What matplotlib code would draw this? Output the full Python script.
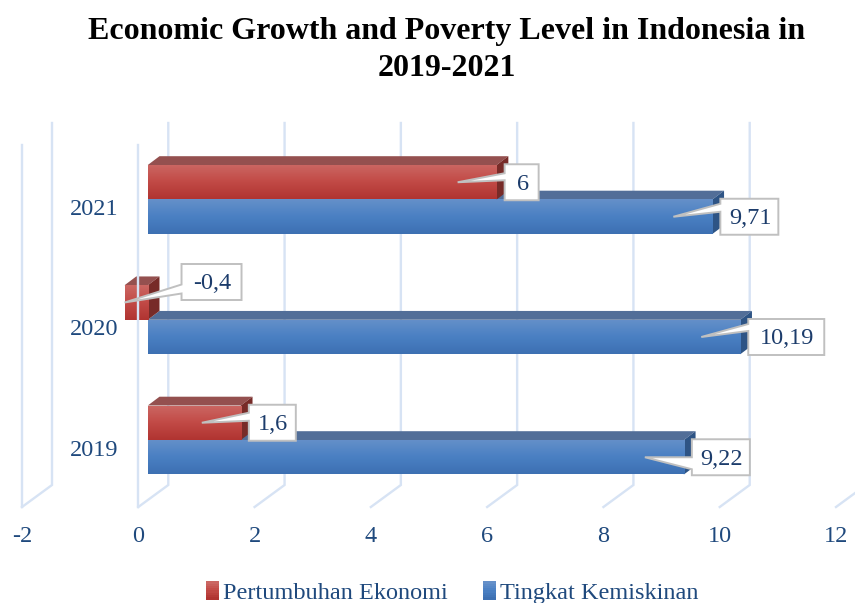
import numpy as np
import matplotlib
matplotlib.use('Agg')
import matplotlib.pyplot as plt
from matplotlib.colors import LinearSegmentedColormap
from matplotlib.legend_handler import HandlerBase
from matplotlib.patches import Polygon, Rectangle

plt.rcParams['font.family'] = ['Liberation Serif', 'DejaVu Serif']

years = ['2019', '2020', '2021']
pertumbuhan = [1.6, -0.4, 6]
kemiskinan = [9.22, 10.19, 9.71]
x_ticks = [-2, 0, 2, 4, 6, 8, 10, 12]
title = 'Economic Growth and Poverty Level in Indonesia in\n2019-2021'
series_names = ['Pertumbuhan Ekonomi', 'Tingkat Kemiskinan']

W, H = 855, 603
TEXT_BLUE = '#1f497d'
LABEL_BLUE = '#1c3c6b'
GRID = '#d7e3f4'

fig = plt.figure(figsize=(W / 100, H / 100), dpi=100)
ax = fig.add_axes([22 / W, (H - 507) / H, 814 / W, 362 / H])
ax.set_xlim(-2, 12)
ax.set_ylim(-67 / 120.25, 295 / 120.25)
for s in ax.spines.values():
    s.set_visible(False)

# size of one pixel in data units
ux = 14 / 814
uy = (295 + 67) / 120.25 / 362

bar_h = 34.5 * uy
shift = 9.5 * ux          # bars start a bit behind the front of the floor
depth_x = 11.7 * ux
depth_y = 8.8 * uy

# walls and floor of the 3d box
wall_x = 30 * ux
wall_y = 22 * uy
y0, y1 = ax.get_ylim()
line_kw = dict(color=GRID, lw=1.7, clip_on=False, solid_joinstyle='miter')
for t in x_ticks:
    ax.plot([t, t + wall_x, t + wall_x], [y0, y0 + wall_y, y1 + wall_y], zorder=1, **line_kw)
for t in [-2, 0]:
    ax.plot([t, t], [y0, y1], zorder=6, **line_kw)

red_map = LinearSegmentedColormap.from_list('r', ['#cb6763', '#c24a46', '#b03431'])
blue_map = LinearSegmentedColormap.from_list('b', ['#6590c9', '#4a80c3', '#3d70b2'])
gradient = np.linspace(0, 1, 64).reshape(-1, 1)


def bar3d(ypos, value, cmap, top_color, side_color, z):
    bottom = ypos
    bar = ax.barh(bottom, value, height=bar_h, left=shift, align='edge',
                  color='none', clip_on=False, zorder=z)[0]
    left, right = sorted([shift, shift + value])
    top = bottom + bar_h
    ax.add_patch(Polygon([(left, top), (right, top), (right + depth_x, top + depth_y),
                          (left + depth_x, top + depth_y)],
                         fc=top_color, ec='none', clip_on=False, zorder=z))
    ax.add_patch(Polygon([(right, bottom), (right + depth_x, bottom + depth_y),
                          (right + depth_x, top + depth_y), (right, top)],
                         fc=side_color, ec='none', clip_on=False, zorder=z))
    im = ax.imshow(gradient, cmap=cmap, aspect='auto', extent=(left, right, bottom, top),
                   zorder=z + 0.1, interpolation='bilinear')
    im.set_clip_path(Rectangle((left, bottom), right - left, bar_h, transform=ax.transData))
    return bar


def callout(ypos, value, width_px, base, lifted=False):
    # white label box with a wedge pointing back into the bar
    end = shift + value
    if lifted:
        tip = (end, ypos)
        box_l = end + 57 * ux
        cy = ypos + 20.5 * uy
    else:
        tip = (end - 39 * ux, ypos)
        box_l = end + 8 * ux
        cy = ypos
    box_r = box_l + width_px * ux
    hh = 18 * uy
    pts = [(box_l, cy + hh), (box_r, cy + hh), (box_r, cy - hh), (box_l, cy - hh),
           (box_l, ypos + base[1] * uy), tip, (box_l, ypos + base[0] * uy)]
    ax.add_patch(Polygon(pts, closed=True, fc='white', ec='#c0c0c0', lw=1.4,
                         joinstyle='miter', clip_on=False, zorder=8))
    ax.text((box_l + box_r) / 2 + 1 * ux, cy - 2 * uy, str(value).replace('.', ','),
            color=LABEL_BLUE, fontsize=17.5, ha='center', va='center', zorder=9)


y_pos = np.arange(len(years))
for y, r, b in zip(y_pos, pertumbuhan, kemiskinan):
    bar3d(y - bar_h, b, blue_map, '#526e98', '#2e5485', 3)
    bar3d(y, r, red_map, '#94504f', '#772b28', 4)

ax.set_xlim(-2, 12)
ax.set_ylim(y0, y1)

red_widths = [47, 60, 34]
blue_widths = [58, 76, 58]
red_bases = [(10, 2), (18, 9), (9, 2)]
blue_bases = [(0, -12), (13, 6), (13, 5)]
for i, y in enumerate(y_pos):
    callout(y + bar_h / 2, pertumbuhan[i], red_widths[i], red_bases[i], pertumbuhan[i] < 0)
    callout(y - bar_h / 2, kemiskinan[i], blue_widths[i], blue_bases[i])

ax.set_xticks(x_ticks)
ax.set_xticklabels([str(t) for t in x_ticks])
ax.set_yticks(y_pos - 7.5 * uy)
ax.set_yticklabels(years)
ax.tick_params(axis='x', length=0, pad=14, labelsize=17.5, labelcolor=TEXT_BLUE)
ax.tick_params(axis='y', length=0, pad=-69.5, labelsize=17.5, labelcolor=TEXT_BLUE)

fig.text(446.5 / W, 1 - 50 / H, title, fontsize=23, fontweight='bold', color='black',
         ha='center', va='center', linespacing=1.32)


class GradientSwatch(HandlerBase):
    # legend key as a small stack of bands running through the colormap
    def __init__(self, cmap):
        super().__init__()
        self.cmap = cmap

    def create_artists(self, legend, orig_handle, xdescent, ydescent, width, height, fontsize, trans):
        n = 8
        return [Rectangle((-xdescent, -ydescent + height * (n - 1 - i) / n), width, height / n + 0.3,
                          fc=self.cmap(i / (n - 1)), ec='none', transform=trans) for i in range(n)]


handles = [Rectangle((0, 0), 1, 1), Rectangle((0, 0), 1, 1)]
handler_map = {handles[0]: GradientSwatch(red_map), handles[1]: GradientSwatch(blue_map)}
fig.legend(handles, series_names, handler_map=handler_map, loc='center',
           bbox_to_anchor=(452.5 / W, 1 - 593 / H), ncol=2,
           frameon=False, fontsize=17.5, labelcolor=TEXT_BLUE, handlelength=0.53, handleheight=0.75,
           handletextpad=0.17, columnspacing=1.44, borderpad=0)

fig.savefig('out.png', dpi=100)
